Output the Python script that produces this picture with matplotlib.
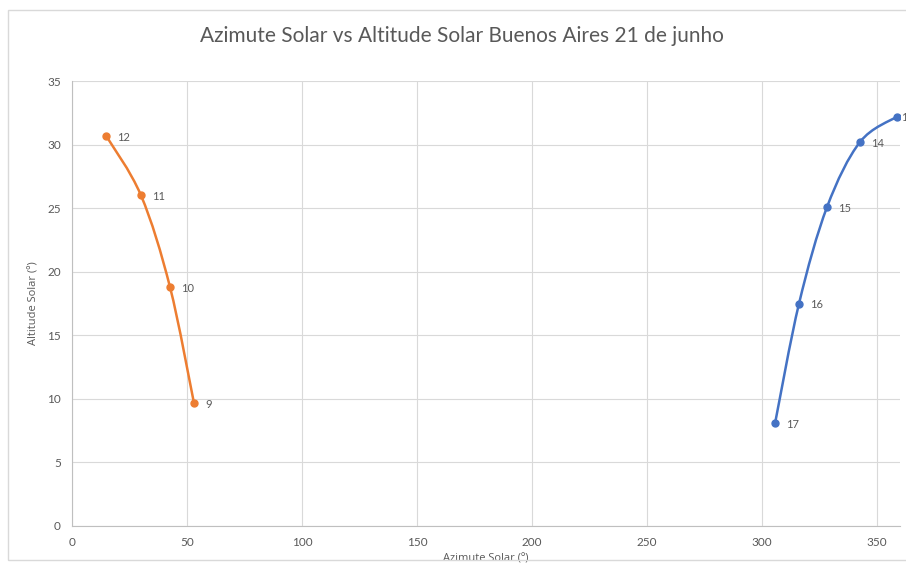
import numpy as np
import matplotlib.pyplot as plt
from matplotlib.path import Path
from matplotlib.patches import PathPatch, Rectangle

# hour of day, azimuth (deg) and altitude (deg) of the sun
manha_horas = [9, 10, 11, 12]
manha_azimute = [53.0, 42.6, 30.0, 14.8]
manha_altitude = [9.7, 18.8, 26.0, 30.7]

tarde_horas = [13, 14, 15, 16, 17]
tarde_azimute = [358.7, 342.6, 328.3, 316.1, 305.7]
tarde_altitude = [32.2, 30.2, 25.1, 17.5, 8.1]

COR_MANHA = '#ED7D31'
COR_TARDE = '#4472C4'
CINZA = '#595959'

plt.rcParams['font.family'] = ['Lato', 'DejaVu Sans']


def smooth_path(x, y, k=1 / 6):
    """Catmull-Rom style bezier path through the points (like Excel smoothing)."""
    pts = np.column_stack([x, y])
    verts = [pts[0]]
    codes = [Path.MOVETO]
    n = len(pts)
    for i in range(n - 1):
        p0 = pts[i - 1] if i > 0 else pts[i]
        p1 = pts[i]
        p2 = pts[i + 1]
        p3 = pts[i + 2] if i + 2 < n else pts[i + 1]
        c1 = p1 + (p2 - p0) * k
        c2 = p2 - (p3 - p1) * k
        verts += [c1, c2, p2]
        codes += [Path.CURVE4] * 3
    return Path(verts, codes)


def draw_series(ax, x, y, labels, color):
    ax.add_patch(PathPatch(smooth_path(x, y), facecolor='none',
                           edgecolor=color, lw=1.8, zorder=3))
    ax.plot(x, y, 'o', color=color, ms=5, zorder=4)
    for xi, yi, lab in zip(x, y, labels):
        # labels at the right border get pulled in closer to their marker
        dx = 3 if xi > 355 else 8
        ax.annotate(str(lab), (xi, yi), xytext=(dx, -1), textcoords='offset points',
                    va='center', ha='left', fontsize=8, color=CINZA,
                    annotation_clip=False)


fig = plt.figure(figsize=(9.06, 5.63), dpi=100)
fig.patches.append(Rectangle((8 / 906, 3 / 563), 1.0, 550 / 563, transform=fig.transFigure,
                             fill=False, edgecolor='#D9D9D9', lw=1))
ax = fig.add_axes([72 / 906, 37 / 563, 828 / 906, 445 / 563])

draw_series(ax, manha_azimute, manha_altitude, manha_horas, COR_MANHA)
draw_series(ax, tarde_azimute, tarde_altitude, tarde_horas, COR_TARDE)

ax.set_xlim(0, 360)
ax.set_ylim(0, 35)
ax.set_xticks(np.arange(0, 351, 50))
ax.set_yticks(np.arange(0, 36, 5))
ax.grid(True, color='#D9D9D9', lw=0.8)
ax.set_axisbelow(True)
for s in ['top', 'right']:
    ax.spines[s].set_visible(False)
for s in ['left', 'bottom']:
    ax.spines[s].set_color('#BFBFBF')
ax.tick_params(length=0, labelsize=8.5, colors=CINZA, pad=8)

rotulo = dict(fontsize=8, color=CINZA, family=['Open Sans', 'DejaVu Sans'])
ax.set_xlabel('Azimute Solar (º)', labelpad=4, **rotulo)
ax.set_ylabel('Altitude Solar (º)', labelpad=0, **rotulo)
ax.yaxis.set_label_coords(-32 / 828, 0.5)
fig.text(462 / 906, 1 - 36 / 563, 'Azimute Solar vs Altitude Solar Buenos Aires 21 de junho',
         ha='center', va='center', fontsize=15, color=CINZA)

fig.savefig('out.png', dpi=100)
